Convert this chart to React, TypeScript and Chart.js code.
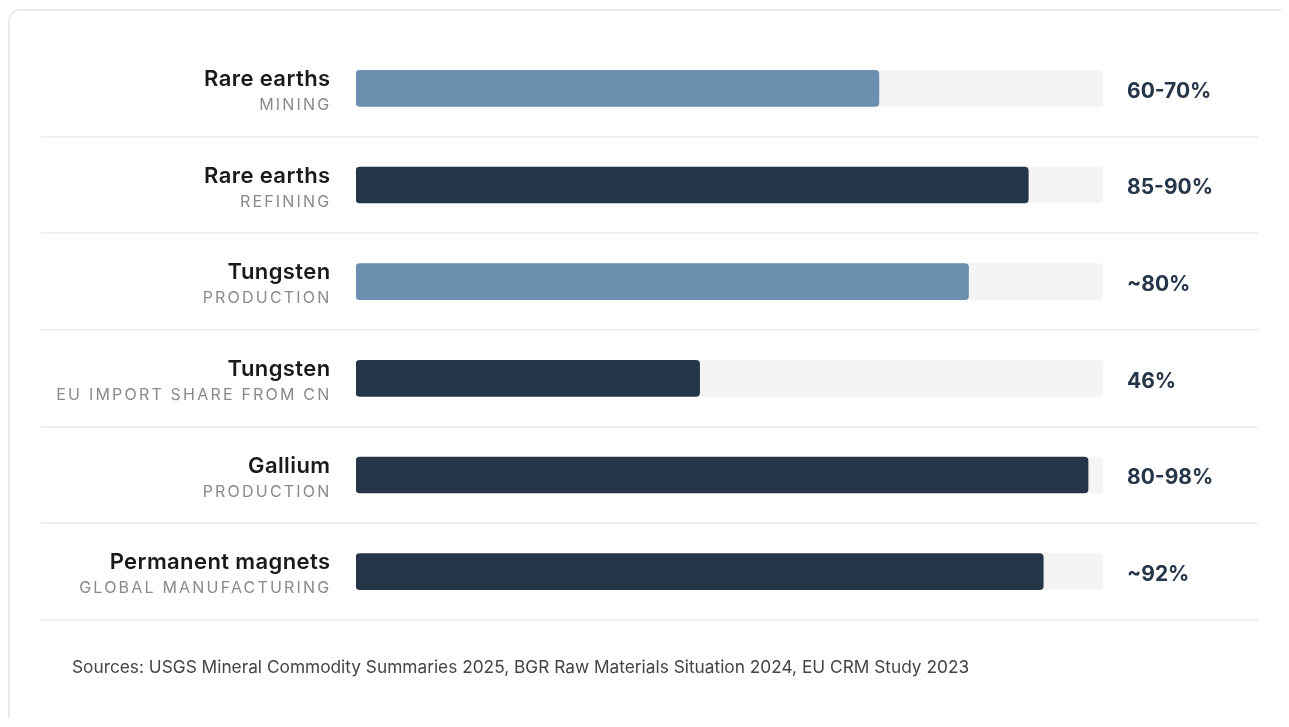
import React, { useEffect, useRef } from "react";
import { Chart, registerables } from "chart.js";

Chart.register(...registerables);

const categories = ["Rare earths", "Rare earths", "Tungsten", "Tungsten", "Gallium", "Permanent magnets"];
const subLabels = ["MINING", "REFINING", "PRODUCTION", "EU IMPORT SHARE FROM CN", "PRODUCTION", "GLOBAL MANUFACTURING"];
const shareValues = [70, 90, 82, 46, 98, 92];
const valueLabels = ["60-70%", "85-90%", "~80%", "46%", "80-98%", "~92%"];
const trackValues = [100, 100, 100, 100, 100, 100];
const barColors = ["#6b8fae", "#253649", "#6b8fae", "#253649", "#253649", "#253649"];
const sourceText = "Sources: USGS Mineral Commodity Summaries 2025, BGR Raw Materials Situation 2024, EU CRM Study 2023";

const FONT = "Inter, 'Noto Sans', sans-serif";

const decorPlugin = {
  id: "decor",
  afterDatasetsDraw(chart: any) {
    const ctx = chart.ctx as CanvasRenderingContext2D;
    const area = chart.chartArea;
    const yScale = chart.scales.y;
    const meta = chart.getDatasetMeta(0);
    ctx.save();
    const step = (area.bottom - area.top) / categories.length;
    ctx.strokeStyle = "#efefef";
    ctx.lineWidth = 2;
    for (let i = 0; i < categories.length; i++) {
      const yc = yScale.getPixelForValue(i);
      const y = Math.round(yc + step / 2);
      ctx.beginPath();
      ctx.moveTo(31, y);
      ctx.lineTo(1248, y);
      ctx.stroke();
    }
    for (let i = 0; i < categories.length; i++) {
      const yc = meta.data[i].y;
      ctx.textAlign = "right";
      ctx.textBaseline = "middle";
      ctx.fillStyle = "#1a1a1a";
      ctx.font = `600 22px ${FONT}`;
      (ctx as any).letterSpacing = "0.4px";
      ctx.fillText(categories[i], area.left - 25.5, yc - 9);
      ctx.fillStyle = "#8a8a8a";
      ctx.font = `16px ${FONT}`;
      (ctx as any).letterSpacing = "2.2px";
      ctx.fillText(subLabels[i], area.left - 24.5, yc + 17);
      (ctx as any).letterSpacing = "0px";
      ctx.textAlign = "left";
      ctx.fillStyle = "#253649";
      ctx.font = `bold 21px ${FONT}`;
      ctx.fillText(valueLabels[i], area.right + 24, yc + 3);
    }
    ctx.textAlign = "left";
    ctx.textBaseline = "middle";
    ctx.fillStyle = "#444444";
    ctx.font = `17.3px ${FONT}`;
    ctx.fillText(sourceText, 62, 657);
    ctx.restore();
  },
};

export default function App() {
  const canvasRef = useRef<HTMLCanvasElement | null>(null);

  useEffect(() => {
    document.body.style.overflow = "hidden";
    if (!canvasRef.current) return;
    const chart = new Chart(canvasRef.current, {
      type: "bar",
      data: {
        labels: categories,
        datasets: [
          {
            label: "Share",
            data: shareValues,
            backgroundColor: barColors,
            borderRadius: 4,
            borderSkipped: false,
            barThickness: 36,
            grouped: false,
          } as any,
          {
            label: "Track",
            data: trackValues,
            backgroundColor: "#f4f4f4",
            borderRadius: 4,
            borderSkipped: false,
            barThickness: 36,
            grouped: false,
          } as any,
        ],
      },
      options: {
        indexAxis: "y",
        responsive: false,
        animation: false,
        layout: { padding: { left: 346, right: 186, top: 29, bottom: 98 } },
        scales: {
          x: { display: false, min: 0, max: 100 },
          y: { display: false },
        },
        plugins: {
          legend: { display: false },
          tooltip: { enabled: false },
        },
      },
      plugins: [decorPlugin],
    });
    return () => chart.destroy();
  }, []);

  return (
    <div
      style={{
        marginTop: 1,
        width: 1300,
        height: 709,
        boxSizing: "border-box",
        borderTop: "2px solid #ebebeb",
        borderLeft: "2px solid #ebebeb",
        borderTopLeftRadius: 12,
        overflow: "hidden",
        background: "#ffffff",
      }}
    >
      <canvas ref={canvasRef} width={1279} height={707} style={{ display: "block" }} />
    </div>
  );
}
